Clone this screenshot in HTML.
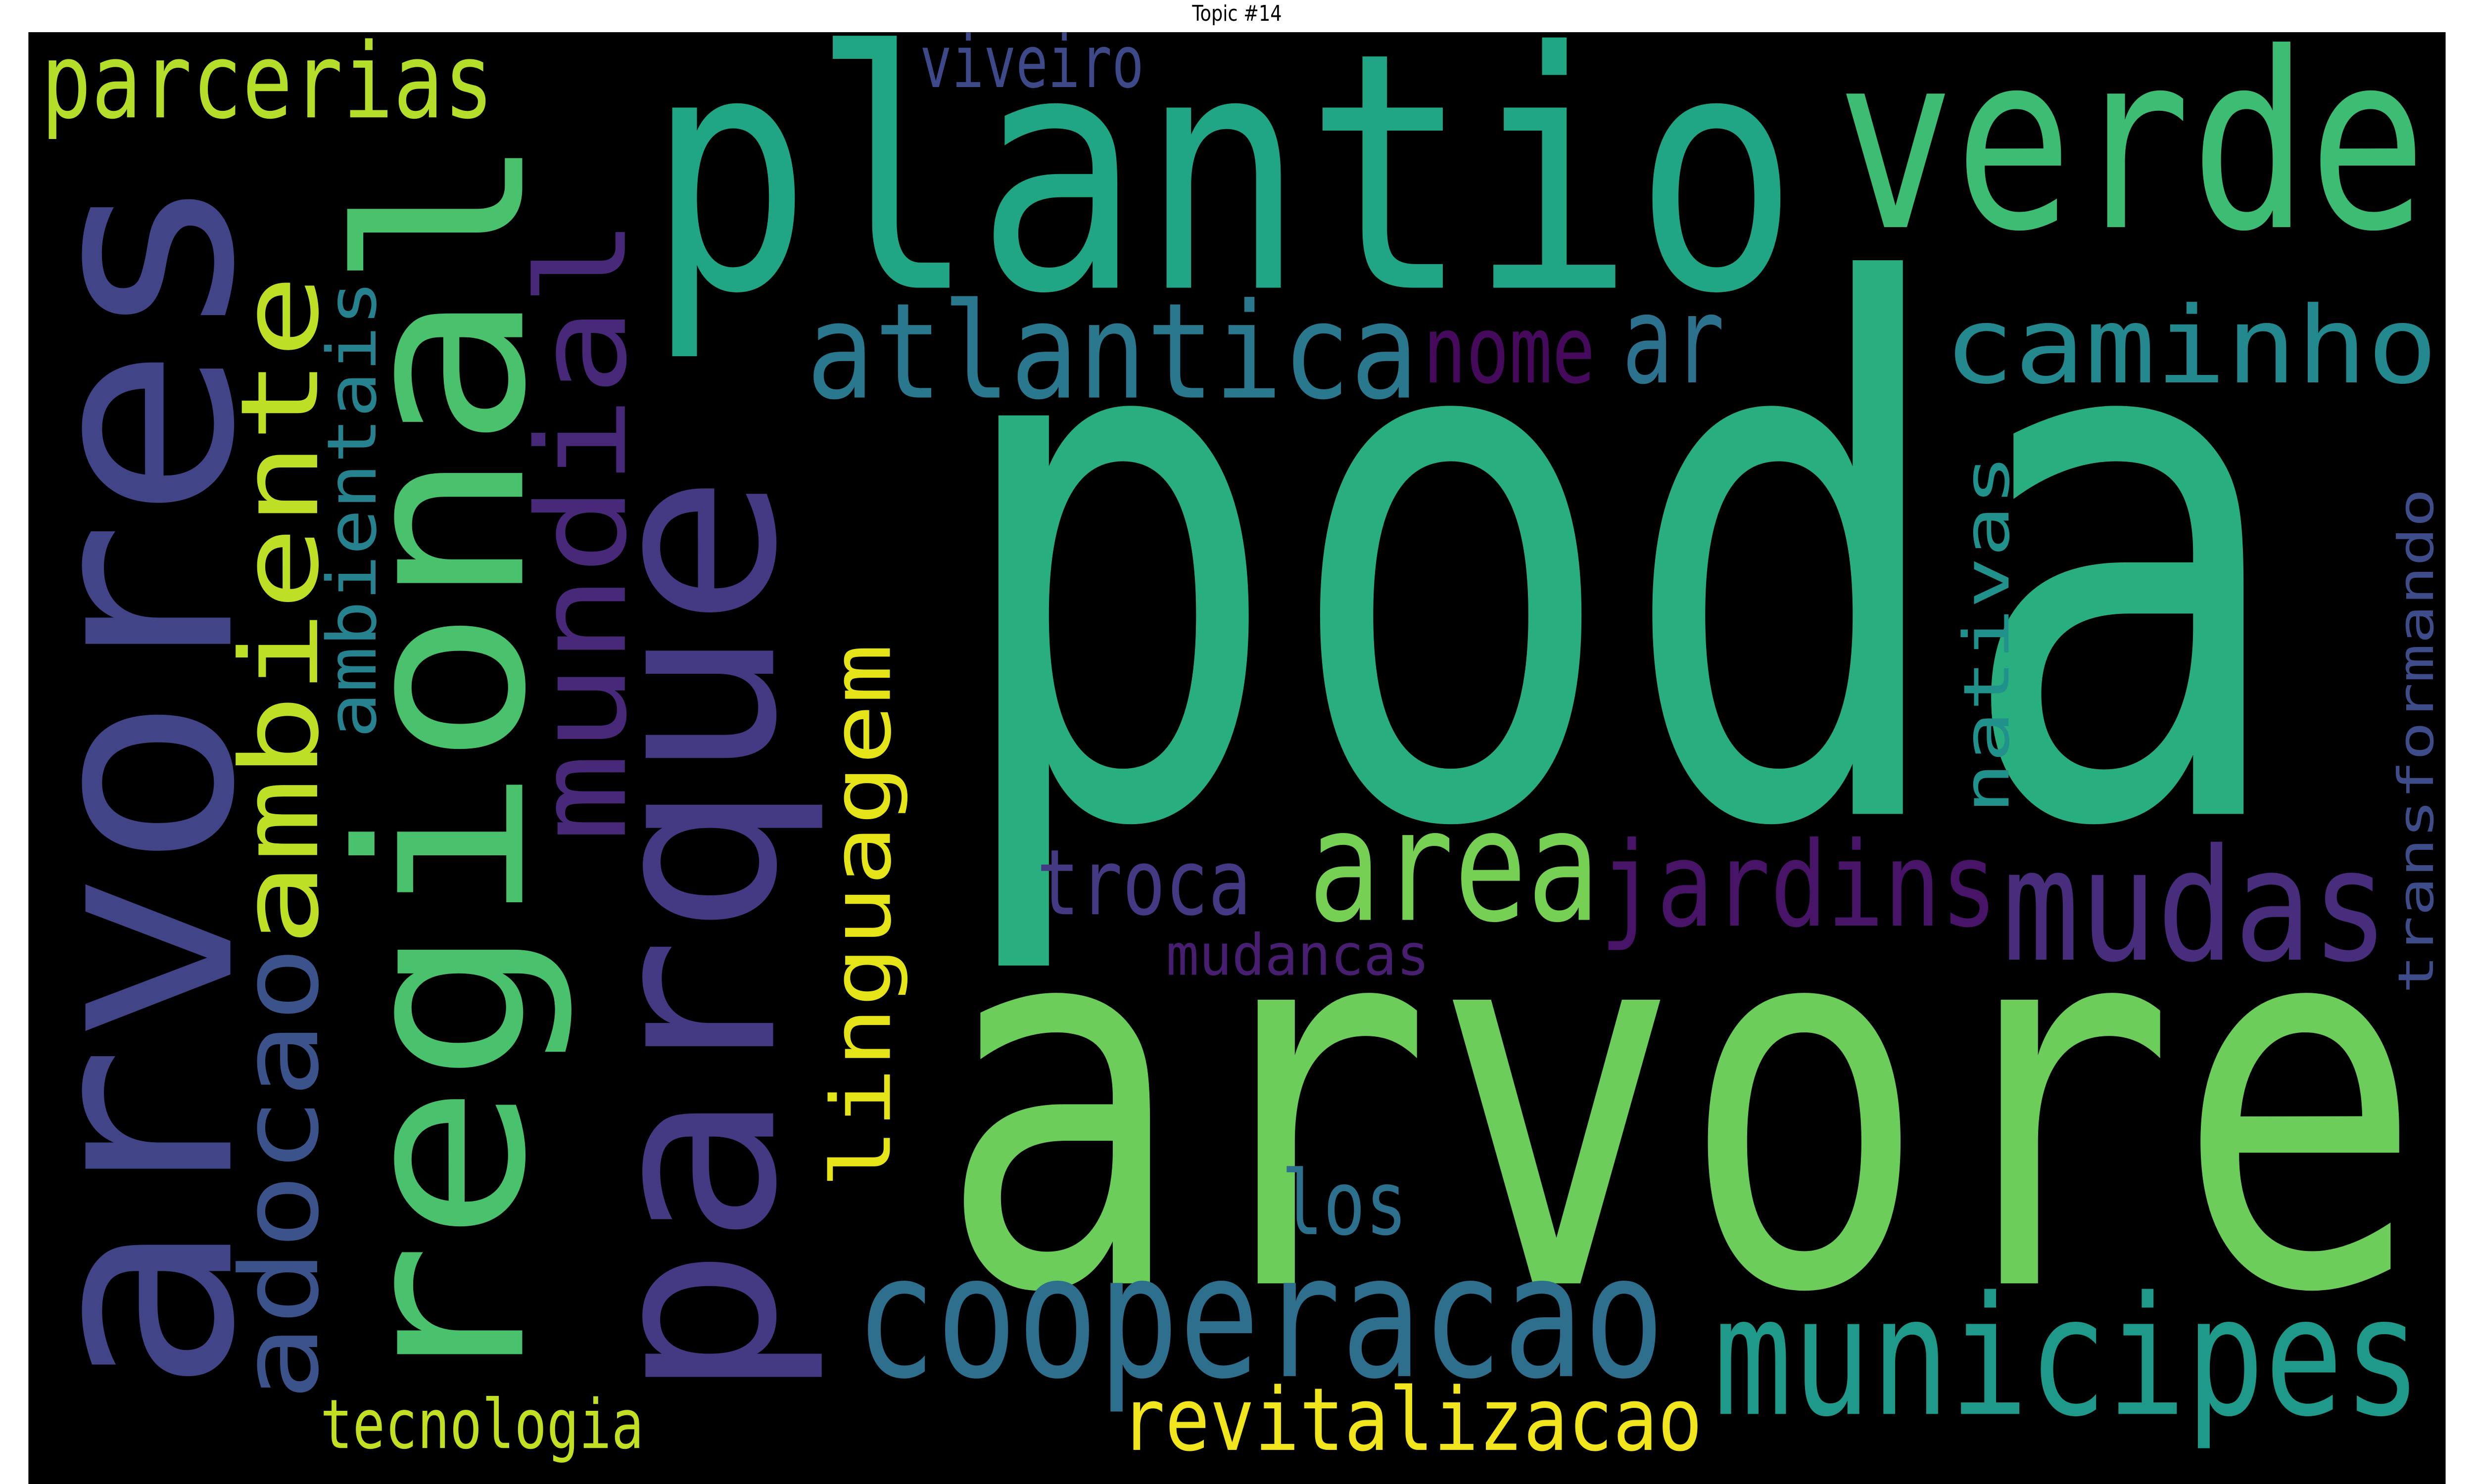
<!DOCTYPE html>
<html>
<head>
<meta charset="utf-8">
<style>
  html,body{margin:0;padding:0;background:#fff;width:100%;height:100%;overflow:hidden;}
  svg{display:block;width:100vw;height:100vh;}
  text{font-family:"DejaVu Sans Mono","Liberation Mono",monospace;}
</style>
</head>
<body>
<svg viewBox="0 0 1568 784" preserveAspectRatio="none" xmlns="http://www.w3.org/2000/svg">
  <rect x="0" y="0" width="1568" height="784" fill="#ffffff"/>
  <text x="784" y="11" font-size="11.5" text-anchor="middle" fill="#000" style="font-family:'DejaVu Sans','Liberation Sans',sans-serif">Topic #14</text>
  <rect x="18" y="17" width="1532" height="767" fill="#000000"/>

  <g>
    <text x="600" y="430" font-size="385" fill="#29af7f" textLength="852" lengthAdjust="spacingAndGlyphs">poda</text>
    <text x="594" y="678" font-size="274" fill="#6ccd5a" textLength="942" lengthAdjust="spacingAndGlyphs">arvore</text>
    <text x="410" y="152" font-size="174" fill="#21a685" textLength="730" lengthAdjust="spacingAndGlyphs">plantio</text>
    <text x="1164" y="120" font-size="129" fill="#3dbc74" textLength="374" lengthAdjust="spacingAndGlyphs">verde</text>
    <text x="583" y="46" font-size="38" fill="#3e4989" textLength="142" lengthAdjust="spacingAndGlyphs">viveiro</text>
    <text x="26" y="62" font-size="55" fill="#b5de2b" textLength="287" lengthAdjust="spacingAndGlyphs">parcerias</text>
    <text x="511" y="210" font-size="70" fill="#2a788e" textLength="388" lengthAdjust="spacingAndGlyphs">atlantica</text>
    <text x="902" y="202" font-size="49" fill="#460a5d" textLength="109" lengthAdjust="spacingAndGlyphs">nome</text>
    <text x="1028" y="202" font-size="64" fill="#2c728e" textLength="65" lengthAdjust="spacingAndGlyphs">ar</text>
    <text x="1232" y="202" font-size="56" fill="#23898e" textLength="313" lengthAdjust="spacingAndGlyphs">caminho</text>
    <text x="829" y="486" font-size="82" fill="#75d054" textLength="185" lengthAdjust="spacingAndGlyphs">area</text>
    <text x="1014" y="489" font-size="62" fill="#481467" textLength="252" lengthAdjust="spacingAndGlyphs">jardins</text>
    <text x="1269" y="507" font-size="82" fill="#472d7b" textLength="245" lengthAdjust="spacingAndGlyphs">mudas</text>
    <text x="657" y="483" font-size="48" fill="#443a83" textLength="136" lengthAdjust="spacingAndGlyphs">troca</text>
    <text x="739" y="515" font-size="30" fill="#481f70" textLength="167" lengthAdjust="spacingAndGlyphs">mudancas</text>
    <text x="812" y="652" font-size="47" fill="#2d708e" textLength="80" lengthAdjust="spacingAndGlyphs">los</text>
    <text x="542" y="727" font-size="90" fill="#2e6f8e" textLength="513" lengthAdjust="spacingAndGlyphs">cooperacao</text>
    <text x="1086" y="747" font-size="87" fill="#1f9a8a" textLength="449" lengthAdjust="spacingAndGlyphs">municipes</text>
    <text x="710" y="766" font-size="46" fill="#f1e51d" textLength="369" lengthAdjust="spacingAndGlyphs">revitalizacao</text>
    <text x="203" y="765" font-size="36" fill="#c2df23" textLength="205" lengthAdjust="spacingAndGlyphs">tecnologia</text>
  </g>

  <g>
    <text transform="translate(146,737) rotate(-90)" font-size="168" fill="#414487" textLength="647" lengthAdjust="spacingAndGlyphs">arvores</text>
    <text transform="translate(331,740) rotate(-90)" font-size="145" fill="#4ac16d" textLength="670" lengthAdjust="spacingAndGlyphs">regional</text>
    <text transform="translate(490,740) rotate(-90)" font-size="148" fill="#443983" textLength="490" lengthAdjust="spacingAndGlyphs">parque</text>
    <text transform="translate(201,500) rotate(-90)" font-size="68" fill="#bddf26" textLength="355" lengthAdjust="spacingAndGlyphs">ambiente</text>
    <text transform="translate(201,740) rotate(-90)" font-size="68" fill="#3b528b" textLength="240" lengthAdjust="spacingAndGlyphs">adocao</text>
    <text transform="translate(238,390) rotate(-90)" font-size="43" fill="#26828e" textLength="242" lengthAdjust="spacingAndGlyphs">ambientais</text>
    <text transform="translate(396,445) rotate(-90)" font-size="78" fill="#482878" textLength="330" lengthAdjust="spacingAndGlyphs">mundial</text>
    <text transform="translate(564,628) rotate(-90)" font-size="52" fill="#e5e419" textLength="288" lengthAdjust="spacingAndGlyphs">linguagem</text>
    <text transform="translate(1273,430) rotate(-90)" font-size="40" fill="#21918c" textLength="190" lengthAdjust="spacingAndGlyphs">nativas</text>
    <text transform="translate(1542,525) rotate(-90)" font-size="31" fill="#3e4c8a" textLength="267" lengthAdjust="spacingAndGlyphs">transformando</text>
  </g>
</svg>
</body>
</html>
